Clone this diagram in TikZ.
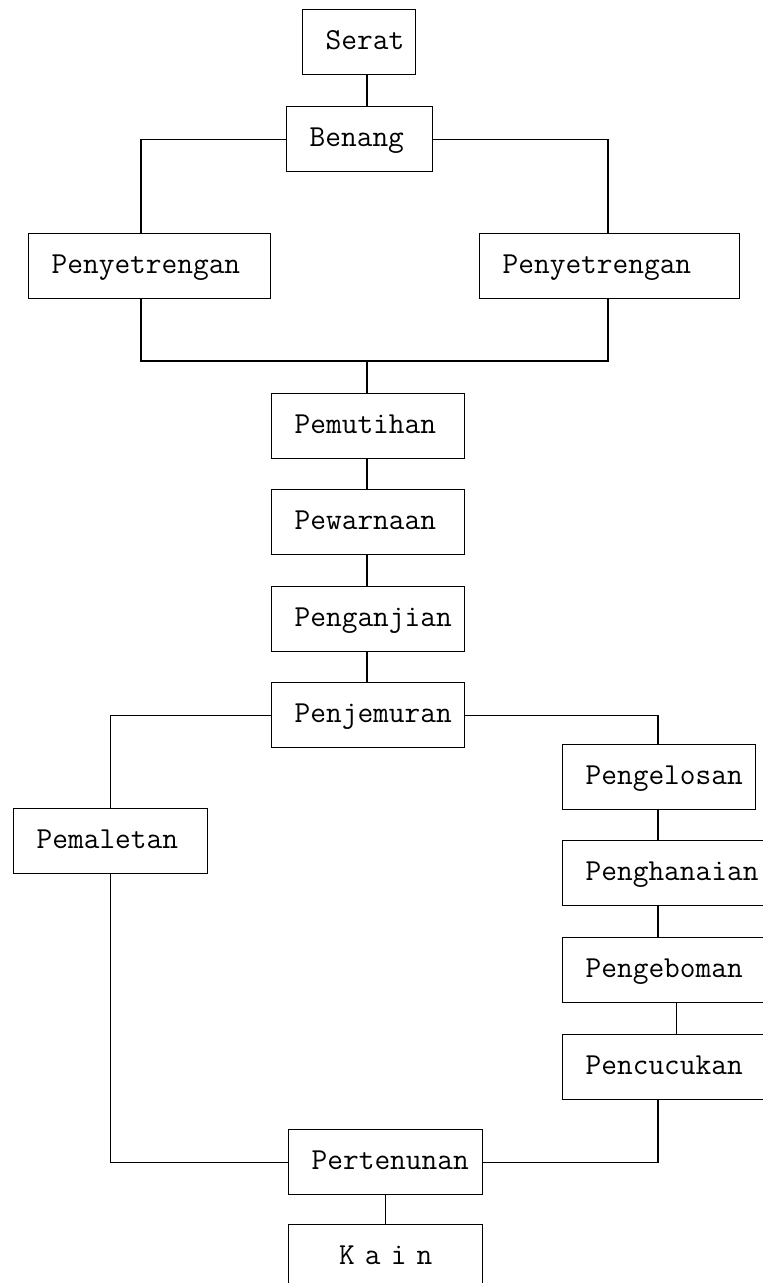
\documentclass[tikz,border=0pt]{standalone}
\usetikzlibrary{positioning}
\tikzset{
  stage/.style={shape=rectangle, draw=black, line width=1.4pt, anchor=north west,
    inner xsep=23pt, inner ysep=0pt, minimum height=65pt, align=left,
    text height=20pt, text depth=6pt,
    font=\fontsize{30.5}{36}\selectfont\ttfamily,
    execute at begin node={\hyphenpenalty=10000 \hbadness=10000 \hfuzz=200pt }},
  link/.style={line width=1.4pt, color=black}
}
\begin{document}
\begin{tikzpicture}[x=1pt,y=-1pt]
\useasboundingbox (0,0) rectangle (763,1283);

\node[stage, text width=67pt] (serat) at (302, 9) {Serat};
\node[stage, text width=100pt] (benang) at (286, 106) {Benang};
\node[stage, text width=196pt] (penyL) at (28, 233) {Penyetrengan};
\node[stage, text width=214pt] (penyR) at (479, 233) {Penyetrengan};
\node[stage, text width=147pt] (pemutihan) at (271, 393) {Pemutihan};
\node[stage, text width=147pt] (pewarnaan) at (271, 489) {Pewarnaan};
\node[stage, text width=147pt] (penganjian) at (271, 586) {Penganjian};
\node[stage, text width=147pt] (penjemuran) at (271, 682) {Penjemuran};
\node[stage, text width=148pt] (pemaletan) at (13, 808) {Pemaletan};
\node[stage, text width=147pt] (pengelosan) at (562, 744) {Pengelosan};
\node[stage, text width=182pt] (penghanaian) at (562, 840) {Penghanaian};
\node[stage, text width=182pt] (pengeboman) at (562, 937) {Pengeboman};
\node[stage, text width=182pt] (pencucukan) at (562, 1034) {Pencucukan};
\node[stage, text width=148pt] (pertenunan) at (288, 1129) {Pertenunan};
\node[stage, text width=148pt, align=center] (kain) at (288, 1224) {K a i n};

\coordinate (spine) at (367, 0);
\coordinate (lcol) at (141, 0);
\coordinate (rcol) at (608, 0);
\coordinate (rside) at (658, 0);
\coordinate (merge) at (367, 361);

\draw[link] (spine |- serat.south) -- (spine |- benang.north);
\draw[link] (benang.west) -| (lcol |- penyL.north);
\draw[link] (benang.east) -| (rcol |- penyR.north);
\draw[link] (lcol |- penyL.south) |- (rcol |- merge) -- (rcol |- penyR.south);
\draw[link] (merge) -- (spine |- pemutihan.north);
\draw[link] (spine |- pemutihan.south) -- (spine |- pewarnaan.north);
\draw[link] (spine |- pewarnaan.south) -- (spine |- penganjian.north);
\draw[link] (spine |- penganjian.south) -- (spine |- penjemuran.north);
\draw[link] (penjemuran.west) -| (pemaletan.north);
\draw[link] (penjemuran.east) -| (rside |- pengelosan.north);
\draw[link] (rside |- pengelosan.south) -- (rside |- penghanaian.north);
\draw[link] (rside |- penghanaian.south) -- (rside |- pengeboman.north);
\draw[link] (pengeboman.south) -- (pencucukan.north);
\draw[link] (rside |- pencucukan.south) |- (pertenunan.east);
\draw[link] (pemaletan.south) |- (pertenunan.west);
\draw[link] (pertenunan.south) -- (kain.north);
\end{tikzpicture}
\end{document}
